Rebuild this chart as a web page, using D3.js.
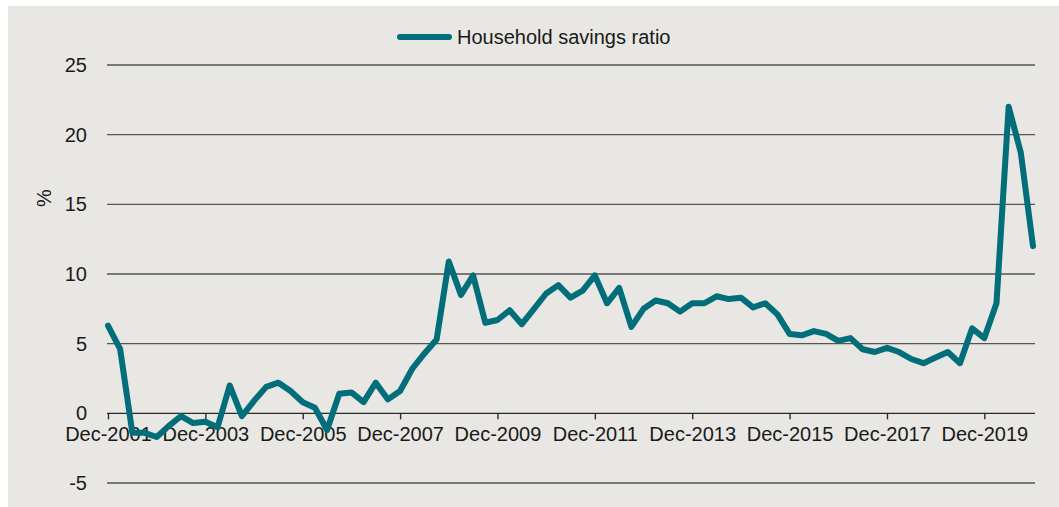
<!DOCTYPE html>
<html>
<head>
<meta charset="utf-8">
<script src="https://cdn.jsdelivr.net/npm/d3@7"></script>
<style>
  body { margin: 0; background: #fff; }
  svg text { font-family: "Liberation Sans", Arial, sans-serif; fill: #1a1a1a; }
</style>
</head>
<body>
<div id="chart"></div>
<script>
"use strict";

// quarterly categories, Dec-2001 .. Dec-2020
const monthNames = ["Mar", "Jun", "Sep", "Dec"];
const quarters = ["Dec-2001"];
for (let y = 2002; y <= 2020; y++) {
    for (const m of monthNames) quarters.push(m + "-" + y);
}

// household savings ratio, %
const savingsRatio = [
    6.3, 4.6, -1.4, -1.4, -1.7, -0.9, -0.2, -0.7,
    -0.6, -1.0, 2.0, -0.2, 0.9, 1.9, 2.2, 1.6,
    0.8, 0.4, -1.2, 1.4, 1.5, 0.8, 2.2, 1.0,
    1.6, 3.2, 4.3, 5.3, 10.9, 8.5, 9.9, 6.5,
    6.7, 7.4, 6.4, 7.5, 8.6, 9.2, 8.3, 8.8,
    9.9, 7.9, 9.0, 6.2, 7.5, 8.1, 7.9, 7.3,
    7.9, 7.9, 8.4, 8.2, 8.3, 7.6, 7.9, 7.1,
    5.7, 5.6, 5.9, 5.7, 5.2, 5.4, 4.6, 4.4,
    4.7, 4.4, 3.9, 3.6, 4.0, 4.4, 3.6, 6.1,
    5.4, 7.9, 22.0, 18.7, 12.0
];

const yTicks = [-5, 0, 5, 10, 15, 20, 25];
const xTickLabels = ["Dec-2001", "Dec-2003", "Dec-2005", "Dec-2007", "Dec-2009",
    "Dec-2011", "Dec-2013", "Dec-2015", "Dec-2017", "Dec-2019"];
const seriesName = "Household savings ratio";

const width = 1059, height = 507;
const lineColor = "#016e7a";

const svg = d3.select("#chart").append("svg")
    .attr("width", width)
    .attr("height", height);

// panel background
svg.append("rect")
    .attr("x", 8).attr("y", 6)
    .attr("width", width - 8).attr("height", height - 6)
    .attr("fill", "#e8e7e3");

const x = d3.scalePoint()
    .domain(quarters)
    .range([108, 1033]);

const y = d3.scaleLinear()
    .domain([-5, 25])
    .range([483, 65]);

const gridLeft = 107, gridRight = 1035;

// gridlines + y labels
const grid = svg.append("g");
grid.selectAll("line")
    .data(yTicks)
    .enter().append("line")
    .attr("x1", gridLeft).attr("x2", gridRight)
    .attr("y1", d => y(d)).attr("y2", d => y(d))
    .attr("stroke", d => d === 0 ? "#2a2a2a" : "#555")
    .attr("stroke-width", 1.4);

grid.selectAll("text")
    .data(yTicks)
    .enter().append("text")
    .attr("x", 87)
    .attr("y", d => y(d))
    .attr("dy", "0.35em")
    .attr("text-anchor", "end")
    .style("font-size", "20px")
    .text(d => d);

// y axis title
svg.append("text")
    .attr("transform", "translate(44,198) rotate(-90)")
    .attr("text-anchor", "middle")
    .attr("dy", "0.35em")
    .style("font-size", "20px")
    .text("%");

// x axis on the zero line
const xAxis = d3.axisBottom(x)
    .tickValues(xTickLabels)
    .tickSize(6)
    .tickPadding(7);

const xg = svg.append("g")
    .attr("transform", `translate(0,${y(0)})`)
    .call(xAxis);
xg.select(".domain").remove();
xg.selectAll(".tick line").attr("stroke", "#2a2a2a").attr("stroke-width", 1.4);
xg.selectAll(".tick text")
    .style("font-size", "20px")
    .style("font-family", "\"Liberation Sans\", Arial, sans-serif")
    .attr("fill", "#1a1a1a");

// the series
const line = d3.line()
    .x((d, i) => x(quarters[i]))
    .y(d => y(d));

svg.append("path")
    .datum(savingsRatio)
    .attr("d", line)
    .attr("fill", "none")
    .attr("stroke", lineColor)
    .attr("stroke-width", 6)
    .attr("stroke-linejoin", "round")
    .attr("stroke-linecap", "round");

// legend
const legend = svg.append("g").attr("transform", "translate(400,37)");
legend.append("line")
    .attr("x1", 0).attr("x2", 49)
    .attr("stroke", lineColor)
    .attr("stroke-width", 6)
    .attr("stroke-linecap", "round");
legend.append("text")
    .attr("x", 57)
    .attr("dy", "0.35em")
    .style("font-size", "20px")
    .text(seriesName);
</script>
</body>
</html>
